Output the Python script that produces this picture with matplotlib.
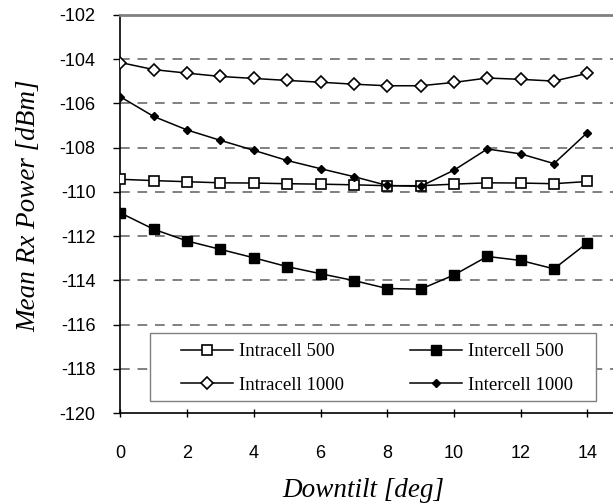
import matplotlib
matplotlib.use("Agg")
import matplotlib.pyplot as plt
from matplotlib.patches import Rectangle

plt.rcParams['axes.unicode_minus'] = False

downtilt = list(range(15))
intra_500 = [-109.43, -109.49, -109.54, -109.59, -109.60, -109.63, -109.65, -109.68,
             -109.72, -109.72, -109.65, -109.59, -109.60, -109.63, -109.53]
inter_500 = [-110.95, -111.69, -112.22, -112.60, -112.98, -113.38, -113.70, -114.01,
             -114.37, -114.40, -113.76, -112.92, -113.10, -113.48, -112.31]
intra_1000 = [-104.15, -104.47, -104.63, -104.78, -104.87, -104.96, -105.04, -105.13,
              -105.20, -105.20, -105.05, -104.85, -104.91, -104.99, -104.64]
inter_1000 = [-105.70, -106.59, -107.20, -107.67, -108.12, -108.58, -108.95, -109.31,
              -109.71, -109.75, -109.02, -108.06, -108.28, -108.72, -107.32]

fig = plt.figure(figsize=(6.13, 5.03), dpi=100)
ax = fig.add_axes([0.1964, 0.1789, 0.8036, 0.7913])

l1, = ax.plot(downtilt, intra_500, color='k', lw=1.1, marker='s', ms=7.5, mfc='white', mec='k', mew=1.2,
              label='Intracell 500', zorder=3)
l2, = ax.plot(downtilt, inter_500, color='k', lw=1.1, marker='s', ms=7.5, mfc='k', mec='k',
              label='Intercell 500', zorder=3)
l3, = ax.plot(downtilt, intra_1000, color='k', lw=1.1, marker='D', ms=6, mfc='white', mec='k', mew=1.2,
              label='Intracell 1000', zorder=3)
l4, = ax.plot(downtilt, inter_1000, color='k', lw=1.1, marker='D', ms=4.5, mfc='k', mec='k',
              label='Intercell 1000', zorder=3)

ax.set_xlim(0, 14.77)
ax.set_ylim(-120, -102)
ax.set_xticks(range(0, 15, 2))
ax.set_yticks(range(-120, -101, 2))

for y in range(-118, -103, 2):
    ax.axhline(y, color='#808080', lw=1.4, ls=(0, (5, 4)), zorder=1)

ax.spines['right'].set_visible(False)
ax.spines['top'].set_color('#808080')
ax.spines['top'].set_linewidth(2)
ax.spines['left'].set_linewidth(1.2)
ax.spines['bottom'].set_linewidth(1.2)

ax.tick_params(axis='y', direction='out', length=5, width=1, pad=13, labelsize=13)
ax.tick_params(axis='x', direction='inout', length=6, width=1, pad=20, labelsize=13)
for lab in ax.get_xticklabels() + ax.get_yticklabels():
    lab.set_fontfamily('Liberation Sans')

ax.set_xlabel('Downtilt [deg]', fontfamily='Liberation Serif', fontstyle='italic', fontsize=19.5)
ax.set_ylabel('Mean Rx Power [dBm]', fontfamily='Liberation Serif', fontstyle='italic', fontsize=19.5)
ax.xaxis.set_label_coords(0.493, -0.163)
ax.yaxis.set_label_coords(-0.16, 0.52)

# legend box
box = Rectangle((0.061, 0.031), 0.904, 0.169, transform=ax.transAxes, facecolor='white',
                edgecolor='#808080', lw=1, zorder=4)
ax.add_patch(box)
leg = ax.legend([l1, l3, l2, l4], ['Intracell 500', 'Intracell 1000', 'Intercell 500', 'Intercell 1000'],
                loc='center', bbox_to_anchor=(0.5206, 0.1118), ncol=2,
                prop={'family': 'Liberation Serif', 'size': 13.5}, handlelength=2.8, handletextpad=0.32,
                columnspacing=3.5, labelspacing=0.87, frameon=False, borderpad=0)
leg.set_zorder(5)

fig.savefig('out.png', dpi=100)
